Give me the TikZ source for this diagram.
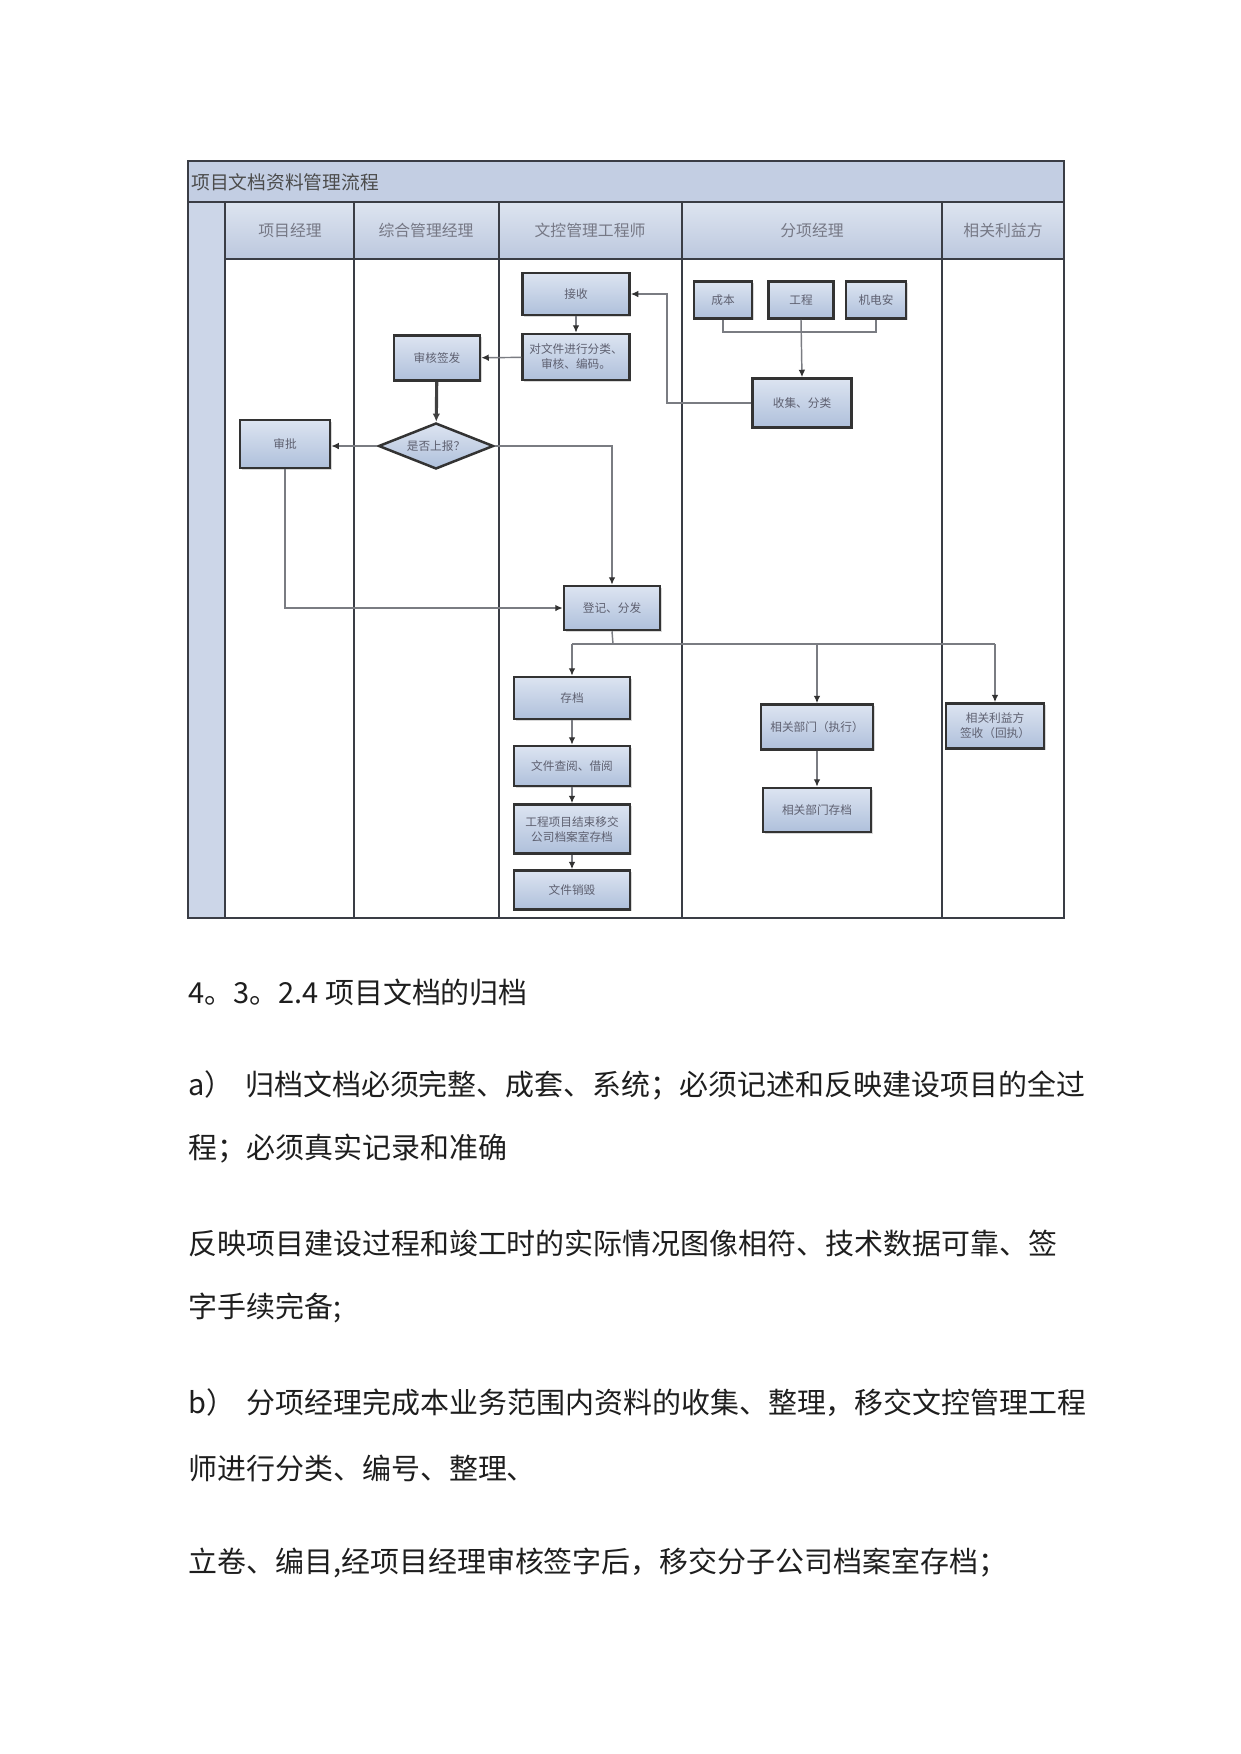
\documentclass[tikz,border=0pt]{standalone}
\usepackage{fontspec}
\setmainfont{Noto Sans CJK SC}
\usetikzlibrary{arrows.meta,shapes.geometric,shadows}
\definecolor{boxtop}{HTML}{DCE4F1}
\definecolor{boxbot}{HTML}{AFC0DB}
\definecolor{titlebg}{HTML}{C3CEE3}
\definecolor{headtop}{HTML}{DDE4F0}
\definecolor{headbot}{HTML}{BCC8DE}
\definecolor{leftcol}{HTML}{CCD6E8}
\definecolor{diagtext}{HTML}{5E6070}
\definecolor{framecol}{HTML}{3A3D45}
\definecolor{linecol}{HTML}{7A7C82}
\definecolor{bodytext}{HTML}{1E1E1E}
\begin{document}
\begin{tikzpicture}[x=0.48pt,y=-0.48pt,
  box/.style 2 args={draw=black!80, line width=1.2pt, top color=boxtop, bottom color=boxbot,
    minimum width={#1*0.48pt}, minimum height={#2*0.48pt}, inner sep=0pt,
    font=\fontsize{5.6}{7.2}\selectfont, text=diagtext, align=center,
    drop shadow={shadow xshift=0.9pt, shadow yshift=-0.9pt, fill=black!30}},
  decision/.style={diamond, draw=black!80, line width=1.2pt, top color=boxtop, bottom color=boxbot,
    minimum width={115*0.48pt}, minimum height={46*0.48pt}, inner sep=0pt, aspect=2.5,
    font=\fontsize{5.6}{7.2}\selectfont, text=diagtext},
  lanehead/.style={font=\fontsize{7.6}{9}\selectfont, text=diagtext!85},
  conn/.style={draw=linecol, line width=0.7pt, -{Latex[length=3.6pt,width=3.2pt]}, arrows={[color=black!80]}},
  line/.style={draw=linecol, line width=0.7pt},
  bodyline/.style={anchor=west, inner sep=0pt, font=\fontsize{13.9}{16}\selectfont, text=bodytext}
]
\useasboundingbox (0,0) rectangle (1241,1754);
\fill[white] (0,0) rectangle (1241,1754);

% ---------- swimlane frame ----------
\fill[titlebg] (188,161) rectangle (1064,202);
\shade[top color=headtop, bottom color=headbot] (225,202) rectangle (1064,259);
\fill[leftcol] (188,202) rectangle (225,918);
\node[anchor=west, inner sep=0pt, font=\fontsize{9}{10}\selectfont, text=black!70] (title) at (191,182) {项目文档资料管理流程};

\draw[framecol, line width=1.4pt] (188,202) -- (1064,202);
\draw[framecol, line width=1.4pt] (225,259) -- (1064,259);
\foreach \xx in {225,354,499,682,942}
  \draw[framecol, line width=1.4pt] (\xx,202) -- (\xx,918);
\draw[framecol, line width=1.4pt] (188,161) rectangle (1064,918);

\node[lanehead] (h1) at (290,230) {项目经理};
\node[lanehead] (h2) at (426,230) {综合管理经理};
\node[lanehead] (h3) at (590,230) {文控管理工程师};
\node[lanehead] (h4) at (812,230) {分项经理};
\node[lanehead] (h5) at (1003,230) {相关利益方};

% ---------- nodes ----------
\node[box={107}{42}] (jieshou) at (576,294) {接收};
\node[box={107}{46}] (duiwj) at (576,357) {对文件进行分类、\\审核、编码。};
\node[box={86}{45}] (shenhe) at (437,358) {审核签发};
\node[decision] (dia) at (436,446) {是否上报？};
\node[box={90}{48}] (shenpi) at (285,444) {审批};
\node[box={96}{44}] (dengji) at (612,608) {登记、分发};

\node[box={116}{42}] (cundang) at (572,698) {存档};
\node[box={116}{40}] (chayue) at (572,766) {文件查阅、借阅};
\node[box={116}{49}] (yijiao) at (572,829) {工程项目结束移交\\公司档案室存档};
\node[box={116}{39}] (xiaohui) at (572,890) {文件销毁};

\node[box={58}{37}] (chengben) at (723,300) {成本};
\node[box={65}{37}] (gongcheng) at (801,300) {工程};
\node[box={60}{37}] (jidian) at (876,300) {机电安};
\node[box={99}{49}] (shouji) at (802,403) {收集、分类};

\node[box={112}{45}] (zhixing) at (817,727) {相关部门（执行）};
\node[box={108}{44}] (bumencun) at (817,810) {相关部门存档};
\node[box={98}{45}] (liyi) at (995,726) {相关利益方\\签收（回执）};

% ---------- connectors ----------
\coordinate (fx) at (801,332);
\coordinate (ret) at (667,403);
\coordinate (bus) at (613,644);

\draw[conn] (jieshou) -- (duiwj);
\draw[conn] (duiwj) -- (shenhe);
\draw[draw=black!75, line width=1.5pt, -{Latex[length=4pt,width=3.6pt]}] (shenhe) -- (dia);
\draw[conn] (dia.west) -- (dia.west -| shenpi.east);
\draw[conn] (dia.east) -| (dengji.north);
\draw[conn] (shenpi.south) |- (dengji.west);

\draw[line] (chengben.south) |- (fx) -| (jidian.south);
\draw[conn] (gongcheng.south) -- (shouji.north);
\draw[conn] (shouji.west) -- (ret) |- (jieshou.east);

\draw[line] (dengji.south) -- (bus);
\draw[line] (cundang.north |- bus) -- (liyi.north |- bus);
\draw[conn] (cundang.north |- bus) -- (cundang.north);
\draw[conn] (zhixing.north |- bus) -- (zhixing.north);
\draw[conn] (liyi.north |- bus) -- (liyi.north);

\draw[conn] (cundang) -- (chayue);
\draw[conn] (chayue) -- (yijiao);
\draw[conn] (yijiao) -- (xiaohui);
\draw[conn] (zhixing) -- (bumencun);

% ---------- body text ----------
\node[bodyline] (t1) at (188,992) {4。3。2.4 项目文档的归档};
\node[bodyline] (t2) at (188,1085) {a）\hspace{0.4em}归档文档必须完整、成套、系统；必须记述和反映建设项目的全过};
\node[bodyline] (t3) at (188,1149) {程；必须真实记录和准确};
\node[bodyline] (t4) at (188,1243) {反映项目建设过程和竣工时的实际情况图像相符、技术数据可靠、签};
\node[bodyline] (t5) at (188,1308) {字手续完备;};
\node[bodyline] (t6) at (188,1403) {b）\hspace{0.4em}分项经理完成本业务范围内资料的收集、整理，移交文控管理工程};
\node[bodyline] (t7) at (188,1468) {师进行分类、编号、整理、};
\node[bodyline] (t8) at (188,1563) {立卷、编目,经项目经理审核签字后，移交分子公司档案室存档；};
\end{tikzpicture}
\end{document}
